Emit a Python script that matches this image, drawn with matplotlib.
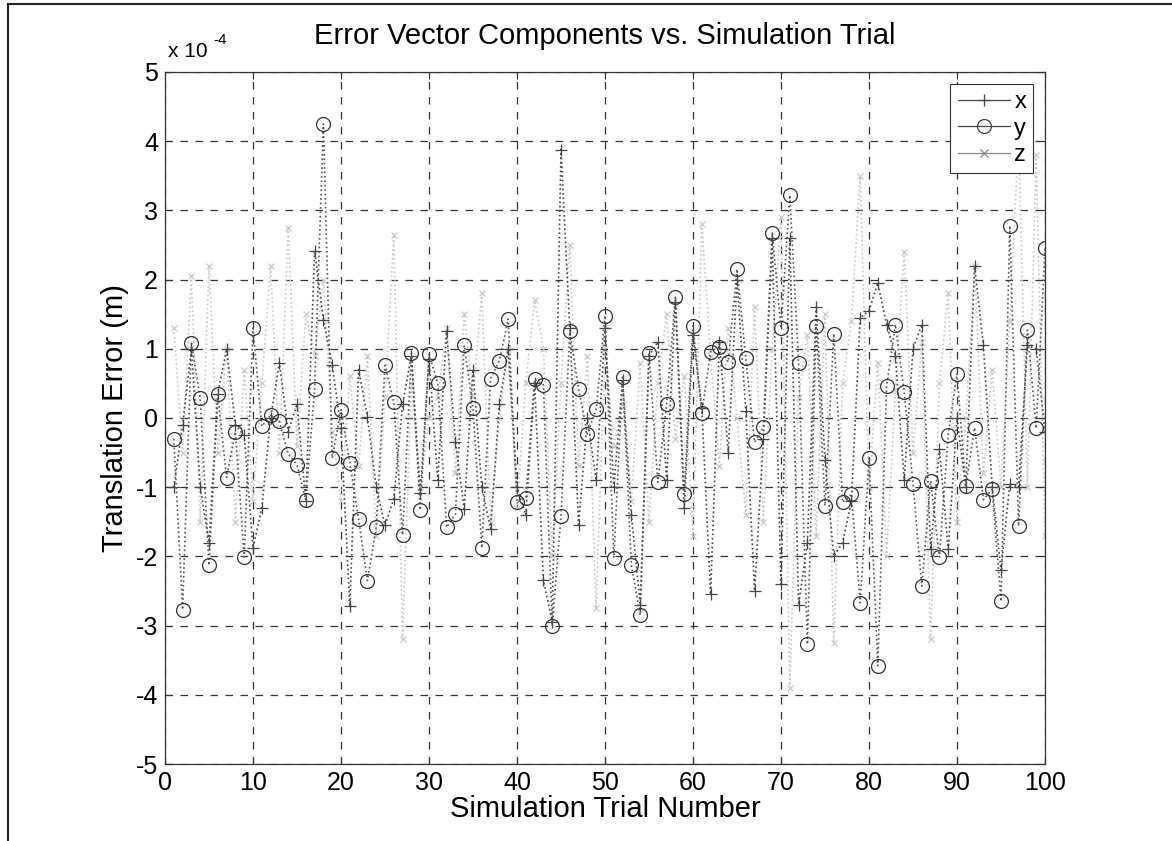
import matplotlib
matplotlib.use("Agg")
import matplotlib.pyplot as plt
from matplotlib.lines import Line2D
import numpy as np

plt.rcParams['font.family'] = ['Liberation Sans', 'DejaVu Sans']

trials = list(range(1, 101))

# Translation error components, in units of 1e-4 m
x_err = [-1.0, -0.1, 1.0, -1.0, -1.8, 0.35, 1.0, -0.1, -0.25, -1.88,
         -1.3, 0.0, 0.8, -0.2, 0.2, -1.2, 2.42, 1.42, 0.77, -0.15,
         -2.72, 0.7, 0.02, -1.0, -1.55, -1.17, 0.2, 0.9, -1.09, 0.85,
         -0.9, 1.25, -0.34, -1.31, 0.7, -1.0, -1.6, 0.2, 1.0, -1.0,
         -1.4, 0.5, -2.34, -2.95, 3.88, 1.3, -1.54, 0.0, -0.9, 1.3,
         -1.0, 0.55, -1.4, -2.7, 0.9, 1.1, -0.9, 1.68, -1.3, 1.2,
         0.15, -2.55, 1.1, -0.5, 2.0, 0.1, -2.5, -0.3, 2.6, -2.4,
         2.6, -2.7, -1.8, 1.6, -0.6, -2.0, -1.8, -1.2, 1.45, 1.55,
         1.95, 1.35, 0.9, -0.9, 1.0, 1.35, -1.9, -0.45, -1.9, 0.0,
         -1.0, 2.2, 1.05, -1.0, -2.2, -0.95, -1.0, 1.05, 1.0, -0.2]

y_err = [-0.30, -2.77, 1.08, 0.29, -2.13, 0.34, -0.86, -0.20, -2.01, 1.30,
         -0.12, 0.04, -0.05, -0.52, -0.68, -1.18, 0.42, 4.25, -0.58, 0.12,
         -0.65, -1.46, -2.35, -1.58, 0.76, 0.23, -1.69, 0.94, -1.33, 0.92,
         0.50, -1.58, -1.39, 1.05, 0.14, -1.88, 0.57, 0.83, 1.43, -1.22,
         -1.15, 0.56, 0.48, -3.01, -1.41, 1.25, 0.42, -0.23, 0.13, 1.48,
         -2.02, 0.59, -2.13, -2.85, 0.94, -0.93, 0.20, 1.75, -1.10, 1.33,
         0.07, 0.96, 1.03, 0.81, 2.15, 0.87, -0.35, -0.13, 2.68, 1.30,
         3.22, 0.80, -3.27, 1.33, -1.27, 1.22, -1.22, -1.10, -2.67, -0.58,
         -3.58, 0.46, 1.35, 0.38, -0.95, -2.43, -0.91, -2.01, -0.24, 0.64,
         -0.98, -0.14, -1.18, -1.03, -2.65, 2.78, -1.56, 1.27, -0.15, 2.45]

z_err = [1.3, -0.5, 2.05, -1.5, 2.2, -0.5, 1.0, -1.5, 0.7, -1.2,
         0.5, 2.2, -0.5, 2.75, -0.4, 1.5, 0.9, 2.0, -0.2, -1.2,
         0.6, -0.7, 0.9, -1.7, 0.3, 2.65, -3.2, 0.5, -1.0, 0.0,
         0.3, 1.3, -0.8, 1.5, 0.3, 1.8, -1.5, 0.0, 1.0, -1.3,
         0.5, 1.7, 1.0, -2.0, 0.5, 2.5, -0.7, 0.9, -2.75, 1.0,
         -0.4, 0.2, -1.2, 0.8, -1.5, 0.5, 1.5, -0.3, 0.6, -1.7,
         2.8, 0.9, -0.7, 1.3, 0.0, -1.4, 1.6, -1.5, 1.0, 2.9,
         -3.9, 0.3, 1.2, -1.7, 1.5, -3.25, 0.5, 1.4, 3.5, -1.0,
         0.8, -2.0, 0.4, 2.4, -0.5, 1.1, -3.2, 0.5, 1.8, -1.5,
         0.0, 2.2, -0.8, 0.7, -1.0, 1.4, 4.1, -1.0, 3.8, -1.7]

xticks = list(range(0, 101, 10))
yticks = list(range(-5, 6))

W, H = 1172, 841
fig = plt.figure(figsize=(W / 100, H / 100), dpi=100)
left, right, top, bottom = 165, 1045, 72, 764
ax = fig.add_axes([left / W, 1 - bottom / H, (right - left) / W, (bottom - top) / H])

ax.plot(trials, z_err, color='#c8c8c8', linestyle=':', linewidth=1.2,
        marker='x', markersize=5, markeredgewidth=0.8, label='z', zorder=2)
ax.plot(trials, x_err, color='#444444', linestyle=':', linewidth=1.2,
        marker='+', markersize=9, markeredgewidth=0.9, label='x', zorder=3)
ax.plot(trials, y_err, color='#555555', linestyle=':', linewidth=1.2,
        marker='o', markersize=10, markerfacecolor='none', markeredgecolor='#333333',
        markeredgewidth=0.9, label='y', zorder=4)

ax.set_xlim(0, 100)
ax.set_ylim(-5, 5)
ax.set_xticks(xticks)
ax.set_yticks(yticks)
ax.set_yticklabels([str(v) for v in yticks])
ax.set_xticklabels([str(v) for v in xticks])
ax.tick_params(direction='in', top=True, right=True, length=5, labelsize=18,
               color='#333333', pad=5)
ax.grid(True, color='#333333', linestyle=(0, (6, 6)), linewidth=0.9)
for s in ax.spines.values():
    s.set_color('#333333')
    s.set_linewidth(0.9)

ax.set_title('Error Vector Components vs. Simulation Trial', fontsize=21, pad=20)
ax.set_xlabel('Simulation Trial Number', fontsize=21, labelpad=0)
ax.set_ylabel('Translation Error (m)', fontsize=21, labelpad=5)

# MATLAB-style exponent label
ax.annotate('x 10', xy=(0, 1), xycoords='axes fraction', xytext=(2, 8),
            textcoords='offset points', fontsize=15, ha='left', va='bottom')
ax.annotate('-4', xy=(0, 1), xycoords='axes fraction', xytext=(35, 18),
            textcoords='offset points', fontsize=11, ha='left', va='bottom')

handles = [
    Line2D([], [], color='#444444', linestyle='-', linewidth=0.9, marker='+',
           markersize=9, markeredgewidth=0.9),
    Line2D([], [], color='#444444', linestyle='-', linewidth=0.9, marker='o',
           markersize=10, markerfacecolor='none', markeredgewidth=0.9),
    Line2D([], [], color='#888888', linestyle='-', linewidth=0.9, marker='x',
           markersize=6, markeredgewidth=0.9),
]
leg = ax.legend(handles, ['x', 'y', 'z'], loc='upper right', fontsize=17,
                frameon=True, fancybox=False, framealpha=1, edgecolor='#333333',
                handlelength=2.2, handletextpad=0.2, borderaxespad=0.5,
                labelspacing=0.2, borderpad=0.3)
leg.get_frame().set_linewidth(0.8)

# scan frame lines (top and left)
fig.add_artist(Line2D([8 / W, 1.0], [1 - 4 / H, 1 - 4 / H], color='#222222', linewidth=1.5))
fig.add_artist(Line2D([8 / W, 8 / W], [0, 1 - 4 / H], color='#222222', linewidth=1.5))

fig.savefig('out.png', dpi=100)
